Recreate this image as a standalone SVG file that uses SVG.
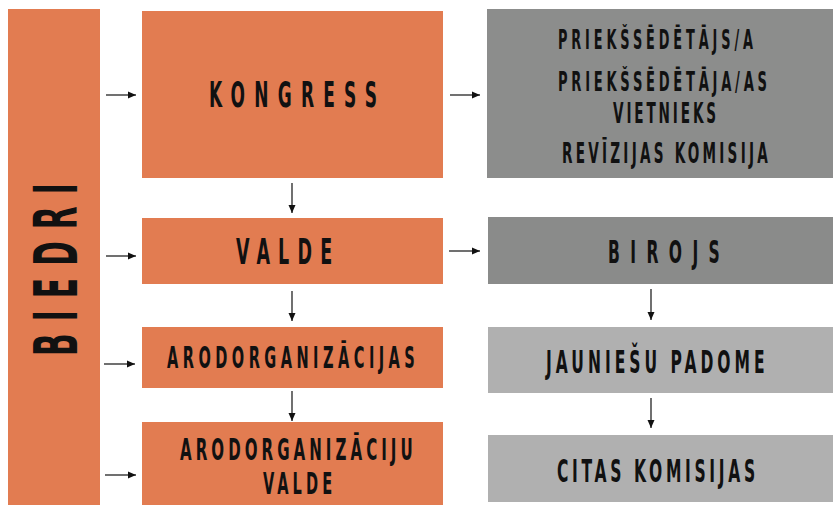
<svg xmlns="http://www.w3.org/2000/svg" width="833" height="505" viewBox="0 0 833 505">
<style>
.org{fill:#E27C51}
.g1{fill:#8C8D8C}
.g2{fill:#B0B0B0}
.t{font-family:"DejaVu Sans Condensed","DejaVu Sans",sans-serif;font-weight:bold;fill:#111}
.c{stroke:#111;stroke-width:1.2;fill:none;marker-end:url(#ah)}
</style>
<defs>
<marker id="ah" viewBox="0 0 8 8" refX="8" refY="4" markerWidth="8" markerHeight="8" markerUnits="userSpaceOnUse" orient="auto">
<path d="M0,0.5 L8,4 L0,7.5 Z" fill="#111"/>
</marker>
</defs>
<rect width="833" height="505" fill="#fff"/>
<g id="biedri">
<rect class="org" x="8" y="9" width="92" height="496"/>
<text class="t" font-size="61" transform="translate(77,356) rotate(-90) scale(0.54,1)" textLength="320" lengthAdjust="spacing">BIEDRI</text>
</g>
<g id="kongress">
<rect class="org" x="142" y="11" width="301" height="167"/>
<text class="t" font-size="35" transform="translate(209,107) scale(0.54,1)" textLength="311" lengthAdjust="spacing">KONGRESS</text>
</g>
<g id="valde">
<rect class="org" x="142" y="218" width="301" height="66"/>
<text class="t" font-size="36" transform="translate(236,264) scale(0.54,1)" textLength="178" lengthAdjust="spacing">VALDE</text>
</g>
<g id="arodorganizacijas">
<rect class="org" x="142" y="327" width="301" height="61"/>
<text class="t" font-size="30" transform="translate(167,368) scale(0.54,1)" textLength="459" lengthAdjust="spacing">ARODORGANIZĀCIJAS</text>
</g>
<g id="arodorganizaciju-valde">
<rect class="org" x="142" y="422" width="301" height="83"/>
<text class="t" font-size="31" transform="translate(180,460) scale(0.54,1)" textLength="431" lengthAdjust="spacing">ARODORGANIZĀCIJU</text>
<text class="t" font-size="30" transform="translate(263,494) scale(0.54,1)" textLength="128" lengthAdjust="spacing">VALDE</text>
</g>
<g id="priekssedetajs">
<rect class="g1" x="487" y="9" width="346" height="169"/>
<text class="t" font-size="26.5" transform="translate(558,49) scale(0.54,1)" textLength="361" lengthAdjust="spacing">PRIEKŠSĒDĒTĀJS/A</text>
<text class="t" font-size="27" transform="translate(558,91) scale(0.54,1)" textLength="387" lengthAdjust="spacing">PRIEKŠSĒDĒTĀJA/AS</text>
<text class="t" font-size="28" transform="translate(613,123) scale(0.54,1)" textLength="191" lengthAdjust="spacing">VIETNIEKS</text>
<text class="t" font-size="28" transform="translate(562,163) scale(0.54,1)" textLength="381" lengthAdjust="spacing">REVĪZIJAS KOMISIJA</text>
</g>
<g id="birojs">
<rect fill="#8A8B8A" x="488" y="217" width="345" height="67"/>
<text class="t" font-size="32" transform="translate(608,263) scale(0.54,1)" textLength="207" lengthAdjust="spacing">BIROJS</text>
</g>
<g id="jauniesu-padome">
<rect class="g2" x="488" y="327" width="345" height="66"/>
<text class="t" font-size="32" transform="translate(546,373) scale(0.54,1)" textLength="405" lengthAdjust="spacing">JAUNIEŠU PADOME</text>
</g>
<g id="citas-komisijas">
<rect class="g2" x="488" y="435" width="345" height="67"/>
<text class="t" font-size="32" transform="translate(557,482) scale(0.54,1)" textLength="367" lengthAdjust="spacing">CITAS KOMISIJAS</text>
</g>
<g id="connectors">
<line class="c" x1="106" y1="95" x2="136" y2="95"/>
<line class="c" x1="106" y1="256" x2="136" y2="256"/>
<line class="c" x1="104" y1="364" x2="135" y2="364"/>
<line class="c" x1="105" y1="475" x2="136" y2="475"/>
<line class="c" x1="450" y1="95" x2="480" y2="95"/>
<line class="c" x1="449" y1="251" x2="480" y2="251"/>
<line class="c" x1="292" y1="183" x2="292" y2="213"/>
<line class="c" x1="292" y1="291" x2="292" y2="321"/>
<line class="c" x1="292" y1="391" x2="292" y2="421"/>
<line class="c" x1="651" y1="289" x2="651" y2="320"/>
<line class="c" x1="651" y1="398" x2="651" y2="428"/>
</g>
</svg>
